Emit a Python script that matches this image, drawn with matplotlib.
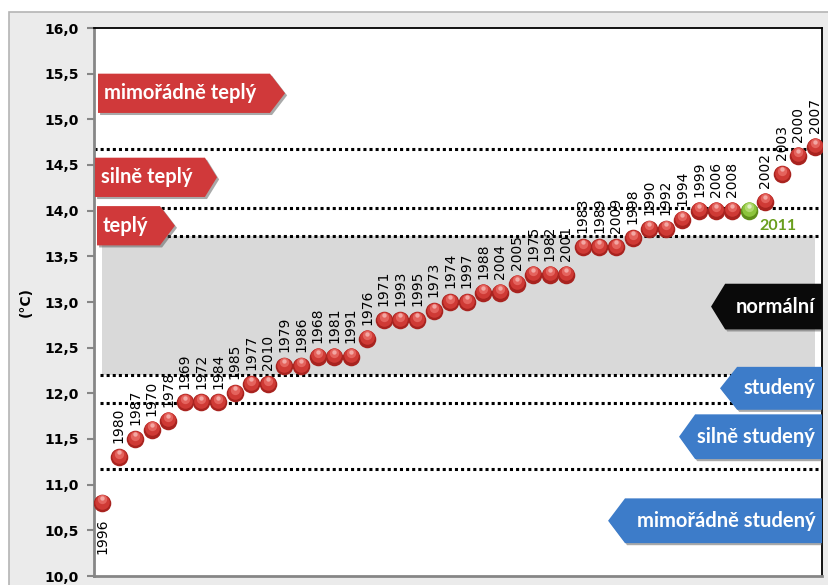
'''Annual mean temperature ranking with climate classes.'''

import matplotlib.pyplot as plt
import numpy as np
from matplotlib.patches import Polygon, Rectangle
from matplotlib.transforms import offset_copy

# Data (sorted from coldest to warmest)
years = ['1996', '1980', '1987', '1970', '1978', '1969', '1972', '1984', '1985',
         '1977', '2010', '1979', '1986', '1968', '1981', '1991', '1976', '1971',
         '1993', '1995', '1973', '1974', '1997', '1988', '2004', '2005', '1975',
         '1982', '2001', '1983', '1989', '2009', '1998', '1990', '1992', '1994',
         '1999', '2006', '2008', '2011', '2002', '2003', '2000', '2007']
temps = [10.8, 11.3, 11.5, 11.6, 11.7, 11.9, 11.9, 11.9, 12.0,
         12.1, 12.1, 12.3, 12.3, 12.4, 12.4, 12.4, 12.6, 12.8,
         12.8, 12.8, 12.9, 13.0, 13.0, 13.1, 13.1, 13.2, 13.3,
         13.3, 13.3, 13.6, 13.6, 13.6, 13.7, 13.8, 13.8, 13.9,
         14.0, 14.0, 14.0, 14.0, 14.1, 14.4, 14.6, 14.7]
highlight_year = '2011'

# class boundaries (°C) and the "normal" band
class_bounds = [14.68, 14.03, 13.72, 12.20, 11.89, 11.17]
normal_low, normal_high = 12.20, 13.72

warm_classes = ['mimořádně teplý', 'silně teplý', 'teplý']
cold_classes = ['normální', 'studený', 'silně studený', 'mimořádně studený']

fig = plt.figure(figsize=(8.29, 5.85), dpi=100)
fig.patch.set_facecolor('white')
fig.patches.append(Rectangle((9 / 829, -0.02), 1.0, 1 - 12 / 585 + 0.02,
                             transform=fig.transFigure, facecolor='#ebebeb',
                             edgecolor='#b4b4b4', lw=1.2, zorder=-10))

ax = fig.add_axes([94 / 829, 9 / 585, 728 / 829, 548 / 585])
ax.set_facecolor('white')
ax.set_xlim(-0.48, 43.42)
ax.set_ylim(10, 16)

x = np.arange(len(temps))

# normal band
ax.add_patch(Rectangle((0, normal_low), len(temps) - 1, normal_high - normal_low,
                       facecolor='#d9d9d9', edgecolor='none', zorder=0))

# dotted class boundaries
ax.hlines(class_bounds[0], -0.48, 43.42, colors='black', linestyles=(0, (1, 1)), lw=2.2, zorder=1)
ax.hlines(class_bounds[1:], -0.1, 43.2, colors='black', linestyles=(0, (1, 1)), lw=2.2, zorder=1)


def tag(text, x0, x1, tip, y0, y1, face, point='right'):
    ym = (y0 + y1) / 2
    if point == 'right':
        verts = [(x0, y0), (x1, y0), (tip, ym), (x1, y1), (x0, y1)]
    else:
        verts = [(x1, y0), (x0, y0), (tip, ym), (x0, y1), (x1, y1)]
    shadow = offset_copy(ax.transData, fig=fig, x=1.5, y=-1.5, units='points')
    ax.add_patch(Polygon(verts, closed=True, facecolor='#555555', alpha=0.5,
                         edgecolor='none', transform=shadow, zorder=3))
    ax.add_patch(Polygon(verts, closed=True, facecolor=face, edgecolor='none', zorder=4))
    if point == 'right':
        ax.text(x0 + 0.35, ym, text, ha='left', va='center', color='white',
                fontsize=14.5, fontweight='bold', family='Lato', zorder=5)
    else:
        ax.text(x1 - 0.4, ym, text, ha='right', va='center', color='white',
                fontsize=14.5, fontweight='bold', family='Lato', zorder=5)


red = '#d0393a'
blue = '#3d7cc9'
tag(warm_classes[0], -0.24, 10.13, 11.04, 15.07, 15.50, red)
tag(warm_classes[1], -0.42, 6.21, 6.94, 14.15, 14.58, red)
tag(warm_classes[2], -0.30, 3.50, 4.40, 13.62, 14.05, red)
tag(cold_classes[0], 37.58, 43.42, 36.73, 12.70, 13.20, '#0a0a0a', point='left')
tag(cold_classes[1], 38.30, 43.42, 37.27, 11.82, 12.29, blue, point='left')
tag(cold_classes[2], 35.77, 43.42, 34.80, 11.28, 11.77, blue, point='left')
tag(cold_classes[3], 31.54, 43.42, 30.52, 10.36, 10.85, blue, point='left')

# spheres: base + lighter layers shifted upward
is_hl = np.array([y == highlight_year for y in years])
layers_red = [('#a8231f', 160, 0), ('#cf3a35', 110, 1.0), ('#e4635d', 45, 2.5), ('#f3a7a3', 10, 3.5)]
layers_grn = [('#5f8f1a', 160, 0), ('#8cc43c', 110, 1.0), ('#b0d96e', 45, 2.5), ('#dff0c2', 10, 3.5)]
for (cr, s, dy), (cg, _, _) in zip(layers_red, layers_grn):
    tr = offset_copy(ax.transData, fig=fig, x=0, y=dy, units='points')
    ax.scatter(x[~is_hl], np.array(temps)[~is_hl], s=s, color=cr, linewidths=0,
               transform=tr, zorder=6)
    ax.scatter(x[is_hl], np.array(temps)[is_hl], s=s, color=cg, linewidths=0,
               transform=tr, zorder=6)

# year labels
for xi, (yr, t) in enumerate(zip(years, temps)):
    if yr == highlight_year:
        ax.annotate(yr, (xi, t), xytext=(8, -11), textcoords='offset points',
                    ha='left', va='center', color='#6a9e1e', fontsize=11.5,
                    fontweight='bold', family='Lato', zorder=7)
    elif xi == 0:
        ax.annotate(yr, (xi, t), xytext=(0, -11), textcoords='offset points',
                    ha='center', va='top', rotation=90, fontsize=10, zorder=7)
    else:
        ax.annotate(yr, (xi, t), xytext=(0, 10), textcoords='offset points',
                    ha='center', va='bottom', rotation=90, fontsize=10, zorder=7)

# axes formatting
yt = np.arange(10, 16.01, 0.5)
ax.set_yticks(yt)
ax.set_yticklabels([f'{v:.1f}'.replace('.', ',') for v in yt],
                   fontsize=10, fontweight='bold')
ax.set_xticks([])
ax.tick_params(axis='y', length=5, width=1.5, color='#868686', pad=6)
ax.spines['left'].set_color('#868686')
ax.spines['left'].set_linewidth(2)
ax.spines['bottom'].set_color('#868686')
ax.spines['bottom'].set_linewidth(2)
ax.spines['top'].set_linewidth(1.3)
ax.spines['right'].set_linewidth(1.3)

ax.set_ylabel('(°C)', fontsize=10, fontweight='bold')
ax.yaxis.set_label_coords(-61 / 728, 0.5)

plt.savefig('out.png', dpi=100)
